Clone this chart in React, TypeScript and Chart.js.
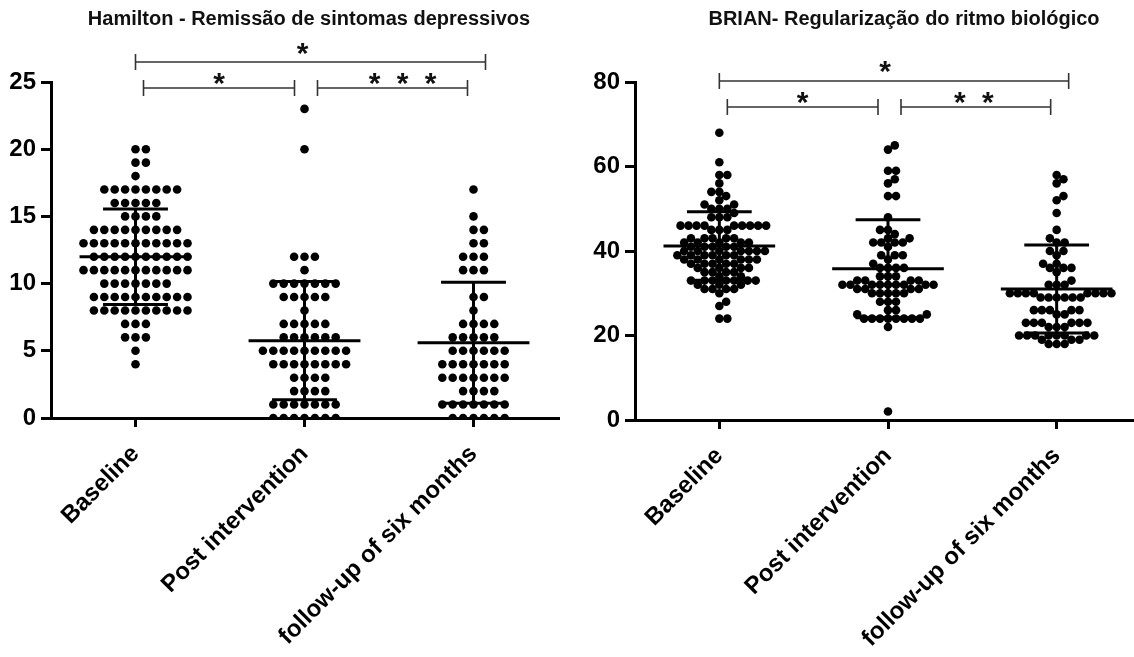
import React, { useEffect, useRef } from "react";
import { Chart, registerables } from "chart.js";

Chart.register(...registerables);

// ---------- DATA ----------
const categories = ["Baseline", "Post intervention", "follow-up of six months"];

const hamiltonTitle = "Hamilton - Remissão de sintomas depressivos";
const brianTitle = "BRIAN- Regularização do ritmo biológico";

const hamiltonTicks = [0, 5, 10, 15, 20, 25];
const brianTicks = [0, 20, 40, 60, 80];

const hamiltonBaseline = [
  20, 20, 19, 19, 18,
  17, 17, 17, 17, 17, 17, 17, 17,
  16, 16, 16, 16, 16,
  15, 15, 15, 15,
  14, 14, 14, 14, 14, 14, 14, 14, 14,
  13, 13, 13, 13, 13, 13, 13, 13, 13, 13, 13,
  12, 12, 12, 12, 12, 12, 12, 12, 12, 12,
  11, 11, 11, 11, 11, 11, 11, 11, 11, 11, 11,
  10, 10, 10, 10, 10, 10, 10,
  9, 9, 9, 9, 9, 9, 9, 9, 9, 9,
  8, 8, 8, 8, 8, 8, 8, 8, 8, 8,
  7, 7, 7, 6, 6, 6, 5, 4,
];
const hamiltonPost = [
  23, 20, 12, 12, 12, 11,
  10, 10, 10, 10, 10, 10, 10,
  9, 9, 9, 9, 9, 8,
  7, 7, 7, 7, 7,
  6, 6, 6, 6, 6, 6,
  5, 5, 5, 5, 5, 5, 5, 5, 5,
  4, 4, 4, 4, 4, 4, 4, 4,
  3, 3, 3, 3, 2, 2, 2, 2,
  1, 1, 1, 1, 1, 1, 1,
  0, 0, 0, 0, 0, 0, 0,
];
const hamiltonFollow = [
  17, 15, 14, 14, 13, 13, 12, 12, 12, 11, 11, 11, 9, 9, 8,
  7, 7, 7, 7, 6, 6, 6, 6, 6,
  5, 5, 5, 5, 5, 5,
  4, 4, 4, 4, 4, 4, 4,
  3, 3, 3, 3, 3, 3, 3,
  2, 2, 2, 2,
  1, 1, 1, 1, 1, 1, 1,
  0, 0, 0, 0, 0, 0,
];
const hamiltonMean = [12.0, 5.75, 5.6];
const hamiltonSD = [3.55, 4.4, 4.5];

const brianBaseline = [
  68, 61, 58, 58, 56, 54, 54, 53, 52, 51, 51, 50, 50, 50, 49, 48, 48, 48,
  46, 46, 46, 46, 46, 46, 46, 46, 46,
  45, 45, 45,
  43, 43, 43, 43, 43,
  42, 42, 42, 42, 42,
  41, 41, 41, 41, 41,
  40, 40, 40, 40, 40, 40, 40,
  39, 39, 39, 39, 39, 39,
  38, 38, 38, 38, 38, 38,
  37, 37, 37, 37, 37,
  36, 36, 36, 36,
  35, 35, 35, 35,
  34, 34,
  33, 33, 33, 33, 33, 33, 33,
  32, 32, 32,
  31, 31, 31, 31,
  30, 28, 27, 24, 24,
];
const brianPost = [
  65, 64, 59, 59, 57, 56, 53, 53, 48, 45, 45, 44, 43, 43,
  42, 42, 42, 42, 41, 39, 39, 39, 38, 37,
  36, 36, 36, 36, 34, 34, 34, 33, 33, 33, 33,
  32, 32, 32, 32, 32, 32, 32, 32, 32,
  31, 31, 31, 31, 30, 30, 30, 30, 30,
  28, 28, 28, 26, 26, 25, 25,
  24, 24, 24, 24, 24, 24, 24, 24,
  22, 2,
];
const brianFollow = [
  58, 57, 56, 53, 52, 49, 45, 43, 42, 42, 40, 40, 39, 37, 37,
  36, 36, 36, 35, 33, 32, 32, 32,
  30, 30, 30, 30, 30, 30, 30, 30,
  29, 29, 29, 29, 29, 29,
  26, 26, 26, 26, 26, 25, 25,
  23, 23, 23, 23, 23, 23, 22, 22, 22,
  20, 20, 20, 20, 20, 20, 20, 20,
  19, 19, 19, 18, 18, 18,
];
const brianMean = [41.2, 35.8, 31.0];
const brianSD = [8.1, 11.6, 10.4];

// significance comparisons: [fromCategory, toCategory, stars]
const comparisonsHamilton: [number, number, number][] = [
  [0, 2, 1],
  [0, 1, 1],
  [1, 2, 3],
];
const comparisonsBrian: [number, number, number][] = [
  [0, 2, 1],
  [0, 1, 1],
  [1, 2, 2],
];

// ---------- STYLE ----------
const FONT = "'Liberation Sans', Arial, sans-serif";
const H = 657;

function swarm(values: number[], yPix: (v: number) => number, D: number): number[] {
  const order = values.map((_, i) => i).sort((a, b) => values[a] - values[b]);
  const placed: { x: number; y: number }[] = [];
  const out = new Array(values.length).fill(0);
  for (const i of order) {
    const y = yPix(values[i]);
    const near = placed.filter((p) => Math.abs(p.y - y) < D);
    const cands = [0];
    for (const p of near) {
      const dx = Math.sqrt(D * D - (p.y - y) * (p.y - y));
      cands.push(p.x + dx, p.x - dx);
    }
    cands.sort((a, b) => Math.abs(a) - Math.abs(b) || b - a);
    let chosen = 0;
    for (const c of cands) {
      if (near.every((p) => (p.x - c) ** 2 + (p.y - y) ** 2 >= D * D - 0.01)) {
        chosen = c;
        break;
      }
    }
    placed.push({ x: chosen, y });
    out[i] = chosen;
  }
  return out;
}

type PanelProps = {
  left: number;
  width: number;
  title: string;
  titleX: number;
  titleY: number;
  groups: number[][];
  means: number[];
  sds: number[];
  yMax: number;
  yTicks: number[];
  yAxisWidth: number;
  chartBottom: number;
  padRight: number;
  comparisons: [number, number, number][];
  bracketY: [number, number];
  starY: [number, number];
  starShift: number[];
  swarmD: number;
};

const overlayPlugin = {
  id: "overlay",
  afterDraw(chart: any, _args: any, opts: any) {
    const { ctx } = chart;
    const xs = chart.scales.x;
    ctx.save();
    // title
    ctx.fillStyle = "#111";
    ctx.font = `bold 20px ${FONT}`;
    ctx.textAlign = "center";
    ctx.textBaseline = "middle";
    ctx.fillText(opts.title, opts.titleX, opts.titleY);
    // brackets
    ctx.strokeStyle = "#333";
    ctx.lineWidth = 1.6;
    const offsets: Record<string, [number, number]> = {
      "0-2": [0, 12],
      "0-1": [8, -10],
      "1-2": [13, -6],
    };
    (opts.comparisons as [number, number, number][]).forEach(([a, b, n], ci) => {
      const key = `${a}-${b}`;
      const level = b - a === 2 ? 0 : 1;
      const [oa, ob] = offsets[key];
      const x1 = xs.getPixelForValue(a + 1) + oa;
      const x2 = xs.getPixelForValue(b + 1) + ob;
      const y = opts.bracketY[level];
      ctx.beginPath();
      ctx.moveTo(x1, y);
      ctx.lineTo(x2, y);
      ctx.moveTo(x1, y - 8);
      ctx.lineTo(x1, y + 8);
      ctx.moveTo(x2, y - 8);
      ctx.lineTo(x2, y + 8);
      ctx.stroke();
      // stars
      ctx.fillStyle = "#111";
      ctx.font = `bold 30px ${FONT}`;
      ctx.textAlign = "center";
      ctx.textBaseline = "alphabetic";
      const cx = (x1 + x2) / 2 + (opts.starShift[ci] || 0);
      const sp = 28;
      for (let k = 0; k < n; k++) {
        const sx = cx + (k - (n - 1) / 2) * sp;
        ctx.fillText("*", sx, opts.starY[level] + 0.57 * 30);
      }
    });
    ctx.restore();
  },
};

function Panel(p: PanelProps) {
  const ref = useRef<HTMLCanvasElement | null>(null);
  useEffect(() => {
    if (!ref.current) return;
    const meanData: any[] = [];
    const sdData: any[] = [];
    p.means.forEach((m, i) => {
      const c = i + 1;
      const s = p.sds[i];
      meanData.push({ x: c - 0.331, y: m }, { x: c + 0.331, y: m }, { x: c, y: null });
      sdData.push(
        { x: c - 0.192, y: m + s }, { x: c + 0.192, y: m + s }, { x: c, y: null },
        { x: c, y: m + s }, { x: c, y: m - s }, { x: c, y: null },
        { x: c - 0.192, y: m - s }, { x: c + 0.192, y: m - s }, { x: c, y: null }
      );
    });
    const lineDs = (data: any[], w: number) => ({
      type: "line" as const,
      data,
      borderColor: "#000",
      borderWidth: w,
      pointRadius: 0,
      spanGaps: false,
      fill: false,
      order: 0,
      borderCapStyle: "butt" as const,
    });
    const dotDs = p.groups.map((vals, gi) => ({
      type: "scatter" as const,
      data: vals.map((v) => ({ x: gi + 1, y: v })),
      backgroundColor: "#000",
      borderWidth: 0,
      pointRadius: 4.3,
      pointHoverRadius: 4.3,
      order: 1,
    }));
    const tickFont = { family: FONT, size: 24, weight: "bold" as const };
    const chart = new Chart(ref.current, {
      type: "scatter",
      data: { datasets: [lineDs(meanData, 3), lineDs(sdData, 3), ...dotDs] as any },
      options: {
        animation: false,
        responsive: false,
        devicePixelRatio: 1,
        events: [],
        layout: { padding: { top: 82, right: p.padRight, left: 0, bottom: 0 } },
        plugins: {
          legend: { display: false },
          tooltip: { enabled: false },
          overlay: {
            title: p.title,
            titleX: p.titleX,
            titleY: p.titleY,
            comparisons: p.comparisons,
            bracketY: p.bracketY,
            starY: p.starY,
            starShift: p.starShift,
          },
        } as any,
        scales: {
          x: {
            type: "linear",
            min: 0.5,
            max: 3.5,
            afterBuildTicks: (s: any) => {
              s.ticks = categories.map((_, i) => ({ value: i + 1 }));
            },
            afterFit: (s: any) => {
              s.height = H - p.chartBottom;
            },
            ticks: {
              autoSkip: false,
              minRotation: 45,
              maxRotation: 45,
              padding: 13,
              color: "#000",
              font: tickFont,
              callback: (v: any) => categories[Math.round(Number(v)) - 1] ?? "",
            },
            grid: { display: true, drawOnChartArea: false, drawTicks: true, tickLength: 9, lineWidth: 3, color: "#000" },
            border: { display: true, width: 3, color: "#000" },
          },
          y: {
            type: "linear",
            min: 0,
            max: p.yMax,
            afterBuildTicks: (s: any) => {
              s.ticks = p.yTicks.map((v) => ({ value: v }));
            },
            afterFit: (s: any) => {
              s.width = p.yAxisWidth;
            },
            ticks: { padding: 5, color: "#000", font: tickFont },
            grid: { display: true, drawOnChartArea: false, drawTicks: true, tickLength: 10, lineWidth: 3, color: "#000" },
            border: { display: true, width: 3, color: "#000" },
          },
        },
      },
      plugins: [overlayPlugin],
    } as any);

    const xs: any = chart.scales.x;
    const ys: any = chart.scales.y;
    const pxPerCat = xs.getPixelForValue(2) - xs.getPixelForValue(1);
    p.groups.forEach((vals, gi) => {
      const offs = swarm(vals, (v) => ys.getPixelForValue(v), p.swarmD);
      (chart.data.datasets[2 + gi] as any).data = vals.map((v, k) => ({ x: gi + 1 + offs[k] / pxPerCat, y: v }));
    });
    chart.update();
    return () => chart.destroy();
  }, []);
  return (
    <canvas
      ref={ref}
      width={p.width}
      height={H}
      style={{ position: "absolute", left: p.left, top: 0, width: p.width, height: H, display: "block" }}
    />
  );
}

export default function App() {
  return (
    <div style={{ position: "absolute", left: 0, top: 0, width: 1134, height: H, overflow: "hidden", background: "#fff" }}>
      <Panel
        left={0}
        width={567}
        title={hamiltonTitle}
        titleX={309}
        titleY={19}
        groups={[hamiltonBaseline, hamiltonPost, hamiltonFollow]}
        means={hamiltonMean}
        sds={hamiltonSD}
        yMax={25}
        yTicks={hamiltonTicks}
        yAxisWidth={51}
        chartBottom={418}
        padRight={9}
        comparisons={comparisonsHamilton}
        bracketY={[62, 88]}
        starY={[46, 76]}
        starShift={[-8, 0, 10]}
        swarmD={10.4}
      />
      <Panel
        left={567}
        width={600}
        title={brianTitle}
        titleX={337}
        titleY={19}
        groups={[brianBaseline, brianPost, brianFollow]}
        means={brianMean}
        sds={brianSD}
        yMax={80}
        yTicks={brianTicks}
        yAxisWidth={68}
        chartBottom={420}
        padRight={26}
        comparisons={comparisonsBrian}
        bracketY={[81, 107]}
        starY={[64, 95]}
        starShift={[-9, 0, -2]}
        swarmD={8.0}
      />
    </div>
  );
}
